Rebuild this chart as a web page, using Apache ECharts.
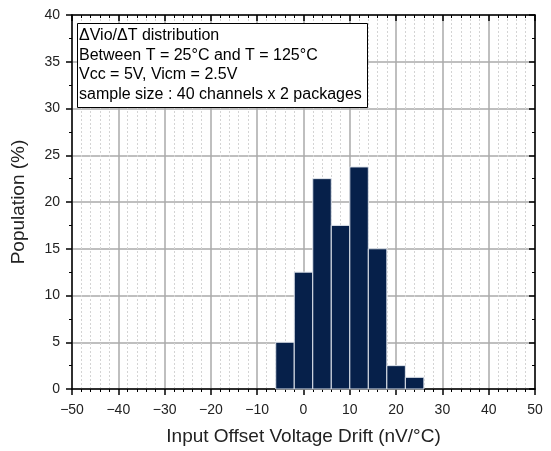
<!DOCTYPE html>
<html>
<head>
<meta charset="utf-8">
<script src="https://cdn.jsdelivr.net/npm/echarts@6/dist/echarts.min.js"></script>
<style>
  html, body { margin: 0; padding: 0; background: #fff; }
</style>
</head>
<body>
<div id="main" style="width:551px;height:451px"></div>
<script>
// histogram bins (nV/°C) and population (%)
const binLeft = [-6, -2, 2, 6, 10, 14, 18, 22]
const binRight = [-2, 2, 6, 10, 14, 18, 22, 26]
const population = [5, 12.5, 22.5, 17.5, 23.75, 15, 2.5, 1.25]

const noteLines = [
  '\u0394Vio/\u0394T distribution',
  'Between T = 25\u00b0C and T = 125\u00b0C',
  'Vcc = 5V, Vicm = 2.5V',
  'sample size : 40 channels x 2 packages'
]

var FONT = 'Liberation Sans, Arial, sans-serif'
var myChart = echarts.init(document.getElementById('main'))

var data = binLeft.map((l, i) => [l, binRight[i], population[i]])

var minusFmt = (v) => v < 0 ? '\u2212' + Math.abs(v) : String(v)

var axisLine = { onZero: false, lineStyle: { color: '#000', width: 1.5 } }
var majorTick = (inside) => ({ inside: inside, length: 6, lineStyle: { color: '#000', width: 1.5 } })
var minorTick = (n) => ({ show: true, splitNumber: n, length: 3, lineStyle: { color: '#000', width: 1 } })

var option = {
  backgroundColor: '#fff',
  animation: false,
  grid: { left: 72, right: 16, top: 15, bottom: 62, outerBoundsMode: 'none' },
  xAxis: [{
    type: 'value',
    min: -50,
    max: 50,
    interval: 10,
    position: 'bottom',
    name: 'Input Offset Voltage Drift (nV/\u00b0C)',
    nameLocation: 'middle',
    nameGap: 38,
    nameTextStyle: { fontFamily: FONT, fontSize: 19, color: '#222' },
    axisLine: axisLine,
    axisTick: majorTick(false),
    minorTick: minorTick(5),
    axisLabel: { fontFamily: FONT, fontSize: 14, color: '#222', margin: 14, formatter: minusFmt },
    splitLine: { show: true, lineStyle: { color: '#aaa', width: 1.5 } },
    minorSplitLine: { show: true, lineStyle: { color: '#d4d4d4', width: 1, type: [2, 2] } }
  }, {
    type: 'value',
    min: -50,
    max: 50,
    interval: 10,
    position: 'top',
    axisLine: axisLine,
    axisTick: majorTick(true),
    minorTick: minorTick(5),
    axisLabel: { show: false },
    splitLine: { show: false }
  }],
  yAxis: [{
    type: 'value',
    min: 0,
    max: 40,
    interval: 5,
    position: 'left',
    name: 'Population (%)',
    nameLocation: 'middle',
    nameGap: 44,
    nameTextStyle: { fontFamily: FONT, fontSize: 19, color: '#222' },
    axisLine: axisLine,
    axisTick: majorTick(false),
    minorTick: minorTick(2),
    axisLabel: { fontFamily: FONT, fontSize: 14, color: '#222', margin: 12 },
    splitLine: { show: true, lineStyle: { color: '#aaa', width: 1.5 } },
    minorSplitLine: { show: false }
  }, {
    type: 'value',
    min: 0,
    max: 40,
    interval: 5,
    position: 'right',
    axisLine: axisLine,
    axisTick: majorTick(true),
    minorTick: minorTick(2),
    axisLabel: { show: false },
    splitLine: { show: false }
  }],
  graphic: [{
    type: 'rect',
    left: 77,
    top: 23,
    z: 100,
    shape: { x: 0, y: 0, width: 290, height: 84 },
    style: { fill: '#fff', stroke: '#000', lineWidth: 1 }
  }, {
    type: 'text',
    left: 79,
    top: 26,
    z: 101,
    style: {
      text: noteLines.join('\n'),
      font: '16px ' + FONT,
      lineHeight: 19.5,
      fill: '#000'
    }
  }],
  series: [{
    type: 'custom',
    xAxisIndex: 0,
    yAxisIndex: 0,
    data: data,
    encode: { x: [0, 1], y: 2 },
    renderItem: function (params, api) {
      var p0 = api.coord([api.value(0), api.value(2)])
      var p1 = api.coord([api.value(1), 0])
      return {
        type: 'rect',
        shape: { x: p0[0], y: p0[1], width: p1[0] - p0[0], height: p1[1] - p0[1] },
        style: { fill: '#06204a', stroke: '#dfe4ec', lineWidth: 1 }
      }
    }
  }]
}
myChart.setOption(option)
</script>
</body>
</html>
